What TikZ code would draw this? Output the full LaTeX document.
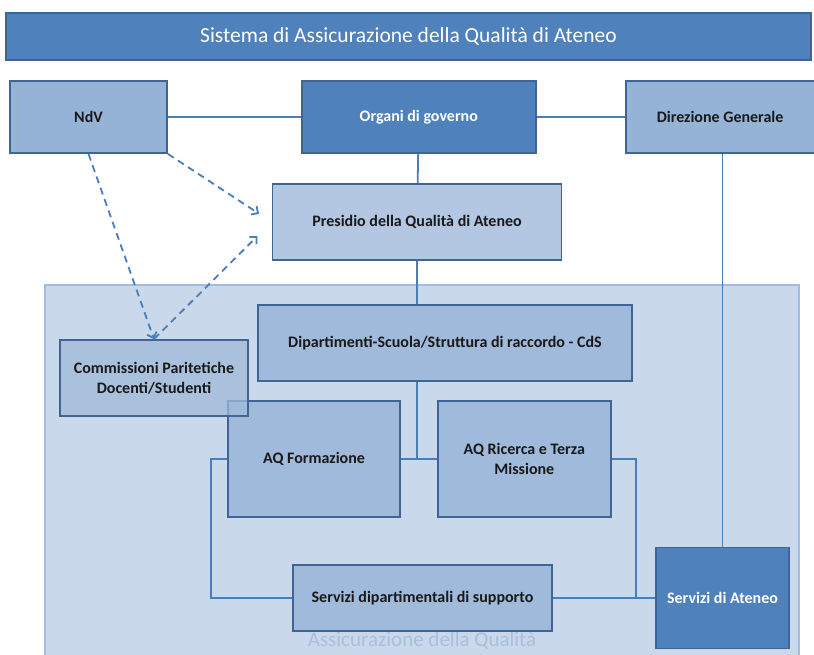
\documentclass[tikz,border=0pt]{standalone}
\usepackage{fontspec}
\setmainfont{Carlito}
\usetikzlibrary{positioning, arrows.meta}
\definecolor{titleblue}{HTML}{4F81BD}
\definecolor{edgeblue}{HTML}{3E6595}
\definecolor{lineblue}{HTML}{4A7EBB}
\definecolor{midblue}{HTML}{95B3D7}
\definecolor{innerblue}{HTML}{A0BADB}
\definecolor{paleblue}{HTML}{B3C7E2}
\definecolor{areablue}{HTML}{C9D8EA}
\definecolor{areaedge}{HTML}{A3BDDD}
\definecolor{areatext}{HTML}{A9BFDC}
\tikzset{
	box/.style={
		draw=edgeblue,
		line width=1.8pt,
		align=center,
		inner sep=1pt,
		font={\fontsize{16}{20}\selectfont\bfseries},
		text=black!90
	},
	darkbox/.style={box, fill=titleblue, text=white},
	lightbox/.style={box, fill=midblue},
	palebox/.style={box, fill=paleblue},
	innerbox/.style={box, fill=innerblue},
	link/.style={draw=lineblue, line width=1.8pt},
	dasharrow/.style={
		draw=lineblue,
		line width=1.8pt,
		dash pattern=on 7pt off 5pt,
		-{Straight Barb[length=5pt, width=10pt]}
	}
}

\begin{document}
\begin{tikzpicture}[x=1pt, y=-1pt]
\useasboundingbox (0,0) rectangle (814,654);

% quality area in the background
\fill[areablue] (45,285) rectangle (799,660);
\draw[areaedge, line width=1.2pt] (45,660) -- (45,285) -- (799,285) -- (799,660);
\node(areatxt)[anchor=base, inner sep=1pt, text=areatext, font={\fontsize{21}{24}\selectfont}] at (422,646) {Assicurazione della Qualità};

% title
\node(title)[draw=edgeblue, line width=1.2pt, fill=titleblue, text=white,
	minimum width=805pt, minimum height=47pt, font={\fontsize{21.5}{24}\selectfont}] at (408.5,36.5)
	{Sistema di Assicurazione della Qualità di Ateneo};

% top row
\node(ndv)[lightbox, minimum width=157pt, minimum height=72pt] at (88.5,117) {NdV};
\node(organi)[darkbox, minimum width=234pt, minimum height=72pt, right=133pt of ndv] {Organi di governo};
\node(direz)[lightbox, minimum width=189pt, minimum height=72pt, right=88pt of organi] {Direzione Generale};
\draw[link] (ndv) -- (organi);
\draw[link] (organi) -- (direz);

\node(presidio)[palebox, minimum width=289pt, minimum height=76pt] at (417,222) {Presidio della Qualità di Ateneo};
\draw[link] (organi) -- (presidio);

\node(dip)[innerbox, minimum width=374pt, minimum height=76pt] at (445,343) {Dipartimenti-Scuola/Struttura di raccordo - CdS};
\draw[link] (presidio.south) -- (presidio.south |- dip.north);

\node(aqf)[innerbox, minimum width=172pt, minimum height=116pt] at (314,459) {AQ Formazione};
\node(aqr)[innerbox, minimum width=173pt, minimum height=116pt, right=36pt of aqf] {AQ Ricerca e Terza\\Missione};
\draw[link] (aqf.east) -- (aqr.west);
\draw[link] (presidio.south |- dip.south) -- (presidio.south |- aqf.east);

\node(comm)[innerbox, fill opacity=0.75, text opacity=1, minimum width=188pt, minimum height=76pt] at (154,378)
	{Commissioni Paritetiche\\Docenti/Studenti};

\node(servdip)[innerbox, minimum width=259pt, minimum height=66pt] at (422.5,598) {Servizi dipartimentali di supporto};
\node(servat)[darkbox, minimum width=133pt, minimum height=101pt] at (722.5,598) {Servizi di Ateneo};

\draw[link] (aqf.west) -- ++(-16,0) |- (servdip.west);
\draw[link] (aqr.east) -- ++(24,0) |- (servat.west);
\draw[link] (servdip.east) -- (servat.west);
\draw[link] (servat.north) -- (servat.north |- direz.south);

% NdV dashed links
\draw[dasharrow] (ndv.south) -- (comm.north);
\draw[dasharrow, shorten >=15pt] (ndv.south east) -- (presidio.west);
\draw[dasharrow, shorten >=20pt] (comm.north) -- (presidio.west);

\end{tikzpicture}
\end{document}
